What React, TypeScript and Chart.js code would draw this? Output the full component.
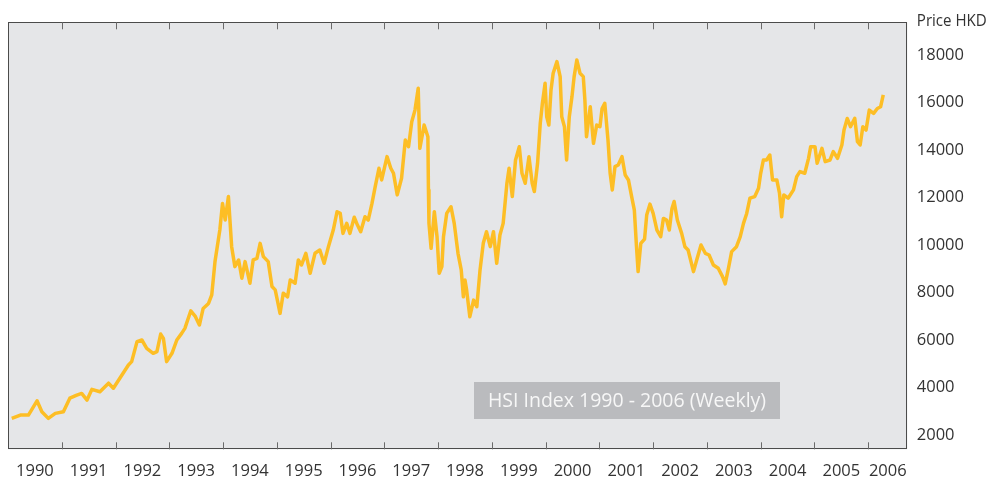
import React, { useEffect, useRef } from "react";
import { Chart, registerables } from "chart.js";

Chart.register(...registerables);

// Weekly HSI closes (sampled), decimal-year dates
const weekDates: number[] = [
  1990.07, 1990.23, 1990.38, 1990.54, 1990.63, 1990.75, 1990.88,
  1991.03, 1991.15, 1991.28, 1991.37, 1991.47, 1991.56, 1991.71, 1991.87, 1991.96,
  1992.08, 1992.24, 1992.30, 1992.40, 1992.49, 1992.58, 1992.70, 1992.77, 1992.84, 1992.89, 1992.95,
  1993.05, 1993.14, 1993.23, 1993.29, 1993.40, 1993.48, 1993.56, 1993.63, 1993.73, 1993.79, 1993.85, 1993.94, 1993.99,
  1994.04, 1994.10, 1994.16, 1994.22, 1994.29, 1994.35, 1994.41, 1994.50, 1994.56, 1994.63, 1994.69, 1994.75, 1994.84, 1994.91, 1994.97,
  1995.01, 1995.06, 1995.12, 1995.20, 1995.25, 1995.34, 1995.40, 1995.46, 1995.54, 1995.62, 1995.71, 1995.80, 1995.88, 1995.96,
  1996.05, 1996.12, 1996.18, 1996.23, 1996.30, 1996.36, 1996.44, 1996.50, 1996.56, 1996.64, 1996.70, 1996.77, 1996.83, 1996.90, 1996.95,
  1997.05, 1997.12, 1997.17, 1997.24, 1997.32, 1997.39, 1997.45, 1997.51, 1997.57, 1997.63, 1997.66, 1997.74, 1997.81, 1997.82, 1997.83, 1997.87, 1997.93, 1997.98,
  1998.02, 1998.07, 1998.10, 1998.16, 1998.24, 1998.30, 1998.37, 1998.43, 1998.47, 1998.50, 1998.53, 1998.59, 1998.66, 1998.72, 1998.78, 1998.84, 1998.90, 1998.97,
  1999.03, 1999.09, 1999.15, 1999.21, 1999.28, 1999.32, 1999.38, 1999.44, 1999.51, 1999.56, 1999.62, 1999.69, 1999.75, 1999.79, 1999.85, 1999.90, 1999.94, 1999.99,
  2000.02, 2000.06, 2000.10, 2000.14, 2000.21, 2000.27, 2000.30, 2000.35, 2000.39, 2000.44, 2000.49, 2000.53, 2000.58, 2000.64, 2000.70, 2000.73, 2000.76, 2000.83, 2000.89, 2000.95,
  2001.01, 2001.05, 2001.10, 2001.16, 2001.20, 2001.24, 2001.29, 2001.35, 2001.42, 2001.48, 2001.54, 2001.60, 2001.65, 2001.69, 2001.72, 2001.77, 2001.84, 2001.88, 2001.94,
  2002.00, 2002.07, 2002.14, 2002.19, 2002.25, 2002.30, 2002.35, 2002.39, 2002.45, 2002.53, 2002.59, 2002.65, 2002.75, 2002.81, 2002.89, 2002.97,
  2003.04, 2003.12, 2003.21, 2003.29, 2003.34, 2003.40, 2003.46, 2003.55, 2003.62, 2003.68, 2003.74, 2003.80, 2003.89, 2003.96,
  2004.00, 2004.05, 2004.11, 2004.17, 2004.22, 2004.30, 2004.35, 2004.39, 2004.43, 2004.51, 2004.61, 2004.67, 2004.73, 2004.82, 2004.89, 2004.93,
  2005.01, 2005.05, 2005.14, 2005.20, 2005.29, 2005.35, 2005.43, 2005.51, 2005.55, 2005.61, 2005.67, 2005.75, 2005.80, 2005.85, 2005.90, 2005.96,
  2006.02, 2006.10, 2006.17, 2006.23, 2006.28,
];

const hsiValues: number[] = [
  2700, 2840, 2840, 3440, 2980, 2700, 2910,
  2980, 3550, 3680, 3750, 3470, 3920, 3820, 4180, 3970,
  4390, 4950, 5090, 5930, 6000, 5650, 5440, 5510, 6250, 6070, 5090,
  5440, 6000, 6280, 6490, 7230, 7010, 6630, 7330, 7540, 7900, 9300, 10630, 11750,
  11050, 12040, 9930, 9090, 9370, 8600, 9300, 8390, 9370, 9440, 10070, 9510, 9300, 8250, 8110,
  7680, 7120, 7970, 7820, 8530, 8390, 9370, 9160, 9650, 8810, 9650, 9790, 9230, 9930,
  10630, 11400, 11330, 10490, 10910, 10490, 11170, 10840, 10560, 11190, 11050, 11750, 12460, 13230, 12740,
  13720, 13230, 13020, 12110, 12810, 14420, 14140, 15190, 15680, 16600, 14070, 15050, 14560, 12320, 10910, 9860, 11400, 10350,
  8810, 9090, 10350, 11330, 11610, 10910, 9650, 8950, 7820, 8530, 8110, 6980, 7680, 7400, 8950, 10070, 10560, 9930,
  10560, 9230, 10420, 10910, 12600, 13230, 12040, 13580, 14140, 13020, 12600, 13720, 12600, 12250, 13440, 15120, 15970, 16810,
  15400, 15050, 16530, 17230, 17720, 17090, 15400, 14980, 13580, 15400, 16250, 17090, 17790, 17230, 17090, 16110, 14560, 15820, 14280, 15050,
  14980, 15750, 15970, 14420, 13020, 12320, 13300, 13370, 13720, 12950, 12740, 12040, 11470, 9930, 8880, 10070, 10250, 11260, 11720,
  11330, 10630, 10350, 11120, 11050, 10630, 11540, 11830, 11050, 10490, 9930, 9790, 8880, 9370, 10000, 9650,
  9580, 9160, 9020, 8670, 8360, 9020, 9720, 9930, 10350, 10910, 11330, 11970, 12040, 12390,
  13020, 13580, 13580, 13790, 12740, 12740, 12180, 11190, 12110, 11970, 12320, 12880, 13090, 13020, 13650, 14140,
  14140, 13440, 14070, 13510, 13580, 13930, 13650, 14210, 14840, 15330, 14980, 15330, 14350, 14210, 14980, 14840,
  15680, 15540, 15750, 15820, 16320,
];

const yearLabels: string[] = [
  "1990", "1991", "1992", "1993", "1994", "1995", "1996", "1997", "1998",
  "1999", "2000", "2001", "2002", "2003", "2004", "2005", "2006",
];
const priceTicks: number[] = [2000, 4000, 6000, 8000, 10000, 12000, 14000, 16000, 18000];
const axisTitle = "Price HKD";
const boxLabel = "HSI Index 1990 - 2006 (Weekly)";

const FONT = "'Open Sans', 'Noto Sans', sans-serif";

const decor = {
  id: "decor",
  beforeDraw(chart: any) {
    const { ctx, chartArea: a } = chart;
    ctx.save();
    ctx.fillStyle = "#e5e6e8";
    ctx.fillRect(a.left, a.top, a.right - a.left, a.bottom - a.top);
    ctx.restore();
  },
  afterDatasetsDraw(chart: any) {
    const { ctx, chartArea: a, scales } = chart;
    const x = scales.x;
    ctx.save();
    // annotation box
    ctx.fillStyle = "#babbbe";
    ctx.fillRect(474, 382, 306, 37);
    ctx.fillStyle = "#f7f7f7";
    ctx.font = `19.5px ${FONT}`;
    ctx.textAlign = "center";
    ctx.textBaseline = "middle";
    ctx.fillText(boxLabel, 627, 401);

    // border
    ctx.strokeStyle = "#4b4b4b";
    ctx.lineWidth = 1;
    ctx.strokeRect(Math.round(a.left) + 0.5, Math.round(a.top) + 0.5,
      Math.round(a.right - a.left) - 1, Math.round(a.bottom - a.top) - 1);

    // year tick marks (inside, top and bottom)
    ctx.strokeStyle = "#6a6a6a";
    yearLabels.forEach((lab) => {
      const yr = Number(lab);
      if (yr <= x.min) return;
      const px = Math.round(x.getPixelForValue(yr)) + 0.5;
      ctx.beginPath();
      ctx.moveTo(px, a.top);
      ctx.lineTo(px, a.top + 7);
      ctx.moveTo(px, a.bottom);
      ctx.lineTo(px, a.bottom - 7);
      ctx.stroke();
    });

    // year labels centred in each visible year span
    ctx.fillStyle = "#333333";
    ctx.font = `16.5px ${FONT}`;
    ctx.textAlign = "center";
    ctx.textBaseline = "middle";
    yearLabels.forEach((lab) => {
      const yr = Number(lab);
      const s = Math.max(yr, x.min);
      const e = Math.min(yr + 1, x.max);
      const cx = (x.getPixelForValue(s) + x.getPixelForValue(e)) / 2;
      ctx.fillText(lab, cx, a.bottom + 22);
    });

    // axis title
    ctx.textAlign = "left";
    ctx.fillText(axisTitle, a.right + 9.5, 21, 70);
    ctx.restore();
  },
};

export default function App() {
  const ref = useRef<HTMLCanvasElement | null>(null);
  useEffect(() => {
    if (!ref.current) return;
    const points = weekDates.map((d, i) => ({ x: d, y: hsiValues[i] }));
    const chart = new Chart(ref.current, {
      type: "line",
      data: {
        datasets: [
          {
            label: "HSI",
            data: points,
            borderColor: "#fdbe25",
            borderWidth: 3.5,
            pointRadius: 0,
            tension: 0,
            borderJoinStyle: "round",
            fill: false,
          },
        ],
      },
      options: {
        animation: false,
        responsive: false,
        devicePixelRatio: 1,
        layout: { padding: { left: 8, top: 22.3, right: 0, bottom: 29.7 } },
        plugins: { legend: { display: false }, tooltip: { enabled: false } },
        scales: {
          x: { type: "linear", min: 1990, max: 2006.727, display: false },
          y: {
            position: "right",
            min: 1398,
            max: 19377,
            afterBuildTicks: (s: any) => {
              s.ticks = priceTicks.map((v) => ({ value: v }));
            },
            afterFit: (s: any) => {
              s.width = 81.7;
            },
            grid: { display: false, drawTicks: false, tickLength: 0 },
            border: { display: false },
            ticks: {
              padding: 9.5,
              color: "#333333",
              font: { size: 16.5, family: FONT },
              callback: (v: any) => String(v),
            },
          },
        },
      } as any,
      plugins: [decor],
    });
    return () => chart.destroy();
  }, []);
  return (
    <div style={{ position: "absolute", left: 0, top: 0, width: 989, height: 479 }}>
      <canvas ref={ref} width={989} height={479} />
    </div>
  );
}
